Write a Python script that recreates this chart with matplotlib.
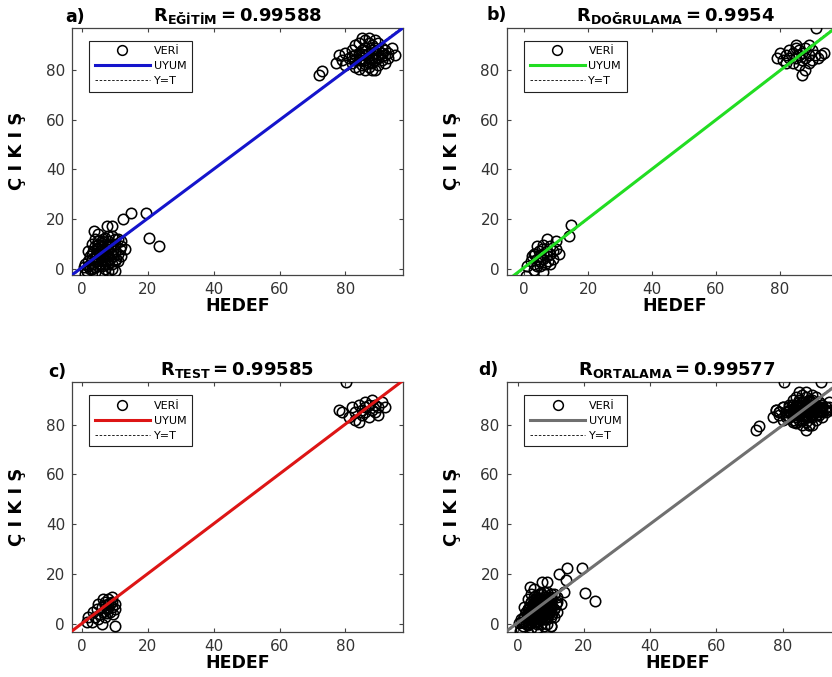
import numpy as np
import matplotlib
matplotlib.use("Agg")
import matplotlib.pyplot as plt
from matplotlib.lines import Line2D

# training set (target, output)
egitim = [
    (0.5, 0.5), (1, 2), (1.5, -1), (2, 3), (2, 1), (2.5, 5), (3, 0), (3, 4), (3.5, 7), (3.5, 2),
    (4, -1.5), (4, 5), (4, 9), (4.5, 3), (4.5, 6), (5, 1), (5, 4), (5, 8), (5, 11), (5.5, 2),
    (5.5, 6), (6, -2), (6, 3), (6, 5), (6, 9), (6.5, 7), (6.5, 12), (7, 0), (7, 4), (7, 6),
    (7, 10), (7.5, 3), (7.5, 8), (8, -1), (8, 5), (8, 7), (8, 11), (8.5, 4), (8.5, 9), (9, 2),
    (9, 6), (9, 13), (9.5, 5), (9.5, 8), (10, -1), (10, 7), (10, 10), (10.5, 4), (11, 6), (11, 12),
    (11.5, 8), (12, 5), (3, 10), (4, 12), (5, 14), (6, 1), (7, 2), (8, 2), (9, 0), (2, 7),
    (6, 11), (8, 13), (10, 12), (5, 9.5), (7, 12.5), (9, 10), (3.6, 15), (7.5, 17), (9, 17), (12.4, 20),
    (15, 22.5), (19.4, 22.5), (20.3, 12.4), (23.3, 9.2), (1, -2), (4, 0.5), (6, 7.5), (8, 9.5), (11, 3), (12, 9),
    (3, 6), (4, 3), (6.5, 4.5), (7.5, 5.5), (5.5, 7), (4.5, 8.5), (10, 3), (2.5, 0), (12, 11), (13, 8),
    (72, 78), (73, 79.5), (77, 83), (78, 86), (79, 84), (80, 82), (80, 87), (81, 85), (82, 83), (82, 88),
    (83, 81), (83, 86), (83, 90), (84, 84), (84, 87), (85, 82), (85, 85), (85, 88), (85, 93), (86, 80),
    (86, 84), (86, 86), (86, 89), (87, 81), (87, 85), (87, 87), (87, 91), (87, 93), (88, 83), (88, 86),
    (88, 88), (88, 90), (89, 80), (89, 84), (89, 87), (89, 89), (90, 82), (90, 85), (90, 88), (90, 91),
    (91, 84), (91, 87), (91, 89), (92, 83), (92, 86), (92, 88), (93, 85), (93, 87), (95, 86), (94, 89),
    (84, 91), (86, 92), (89, 92), (82, 85.5), (84, 86), (86, 87.5), (88, 84.5), (90, 86.5), (87, 83), (85, 86.5),
    (83, 84), (91, 85.5), (89, 85), (86, 82.5), (88, 80), (84, 80.5),
]

# validation set
dogrulama = [
    (0.6, -3), (3, -0.4), (1, 1), (2, 3), (2.5, 5), (3, 2), (3.5, 6), (4, 4), (4, 1), (4.5, 7),
    (5, 3), (5, 5), (5.5, 8), (6, 4), (6, 6), (6.5, 2), (7, 5), (7, 7), (7, 12), (7.5, 3),
    (8, 6), (8, 9), (9, 4), (9, 7), (10, 8), (10, 11), (11, 6), (4, 9), (5, 1), (6, -1.5),
    (14.7, 17.7), (14, 13), (3, 6), (8, 2), (6, 9.5),
    (91.5, 97), (79, 85), (80, 87), (81, 84), (82, 86), (83, 88), (83, 85), (84, 83), (84, 87), (85, 89),
    (85, 85), (86, 86), (86, 82), (86, 88), (87, 84), (87, 87), (88, 89), (88, 85), (88, 80), (89, 83),
    (89, 86), (90, 84), (90, 88), (91, 86), (92, 85), (93, 86), (94, 87), (87, 78), (85, 90), (89, 90),
    (82, 83),
]

# test set
test = [
    (3, 1), (4, 3), (4.5, 6), (5, 8), (5.5, 4), (6, 7), (6.5, 5), (7, 9), (7, 3), (7.5, 6),
    (8, 8), (8, 10), (8.5, 5), (9, 7), (9, 11), (9.5, 4), (10, 8), (10, -1), (6, 0), (5, 2),
    (7, 7.5), (8, 6.5), (9, 9), (6.5, 10), (2, 3), (8.5, 8.5), (7.5, 4.5), (10, 6), (1.5, 1), (3.3, 5),
    (80.3, 97), (78, 86), (79, 85), (81, 83), (82, 87), (83, 82), (83, 85), (84, 88), (85, 86), (85, 84),
    (86, 89), (86, 87), (86, 85), (87, 83), (87, 88), (88, 86), (88, 90), (89, 85), (89, 88), (90, 87),
    (90, 84), (91, 89), (92, 87), (84, 81),
]

tum = egitim + dogrulama + test

# fit line (slope, intercept) for each panel
uyum = [(0.99, 0.45), (0.99, 0.5), (1.0, 0.2), (0.99, 0.5)]
r_values = ["0.99588", "0.9954", "0.99585", "0.99577"]
subs = ["EĞİTİM", "DOĞRULAMA", "TEST", "ORTALAMA"]
harfler = ["a)", "b)", "c)", "d)"]
renkler = ["#1414cc", "#22dd22", "#dd1515", "#707070"]
veriler = [egitim, dogrulama, test, tum]

# axes boxes in figure fraction, and x/y limits
kutular = [[0.0865, 0.594, 0.398, 0.365], [0.609, 0.594, 0.405, 0.365],
           [0.0865, 0.0665, 0.398, 0.369], [0.609, 0.0665, 0.41, 0.369]]
xlims = [(-3, 97.5), (-5.5, 100), (-3, 97.5), (-3.3, 99.7)]
ylims = [(-2.5, 97), (-2.5, 97), (-3.2, 97), (-3.2, 97)]
# panel letter positions (figure fraction)
harf_yer = [(0.078, 0.967), (0.585, 0.970), (0.058, 0.443), (0.575, 0.446)]

fig = plt.figure(figsize=(8.32, 6.77), dpi=100)

for i in range(4):
    ax = fig.add_axes(kutular[i])
    pts = np.array(veriler[i])
    ax.plot(pts[:, 0], pts[:, 1], 'o', mfc='none', mec='black', ms=7.5, mew=1.15, zorder=3)
    xs = np.array(xlims[i])
    m, b = uyum[i]
    # Y=T reference line sits under the fit line
    ax.plot(xs, xs, ls=(0, (3, 2)), color='black', lw=0.6, zorder=2)
    ax.plot(xs, m * xs + b, color=renkler[i], lw=2.2, zorder=4)
    ax.set_xlim(xlims[i])
    ax.set_ylim(ylims[i])
    ax.set_xticks([0, 20, 40, 60, 80])
    ax.set_yticks([0, 20, 40, 60, 80])
    ax.tick_params(direction='in', top=True, right=True, length=3, labelsize=11,
                   labelcolor='#333333', color='#444444', pad=5)
    for s in ax.spines.values():
        s.set_color('#444444')
        s.set_linewidth(0.9)
    ax.set_xlabel("HEDEF", fontsize=12.5, fontweight='bold', labelpad=0)
    ax.set_ylabel("Ç I K I Ş", fontsize=13, fontweight='bold', labelpad=14)
    ax.set_title(r"$\mathbf{R_{%s}=%s}$" % (subs[i], r_values[i]), fontsize=13, pad=5)
    fig.text(harf_yer[i][0], harf_yer[i][1], harfler[i], fontsize=12.5, fontweight='bold')

    handles = [Line2D([], [], ls='none', marker='o', mfc='none', mec='black', ms=7, mew=1.1),
               Line2D([], [], color=renkler[i], lw=2.2),
               Line2D([], [], color='black', ls=(0, (3, 2)), lw=0.6)]
    leg = ax.legend(handles, ["VERİ", "UYUM", "Y=T"], loc='upper left', fontsize=8,
                    handlelength=5, fancybox=False, framealpha=1, edgecolor='#222222',
                    borderpad=0.5, labelspacing=0.45, handletextpad=0.3,
                    bbox_to_anchor=(0.035, 0.97))
    leg.get_frame().set_linewidth(0.8)

fig.savefig("out.png", dpi=100)
